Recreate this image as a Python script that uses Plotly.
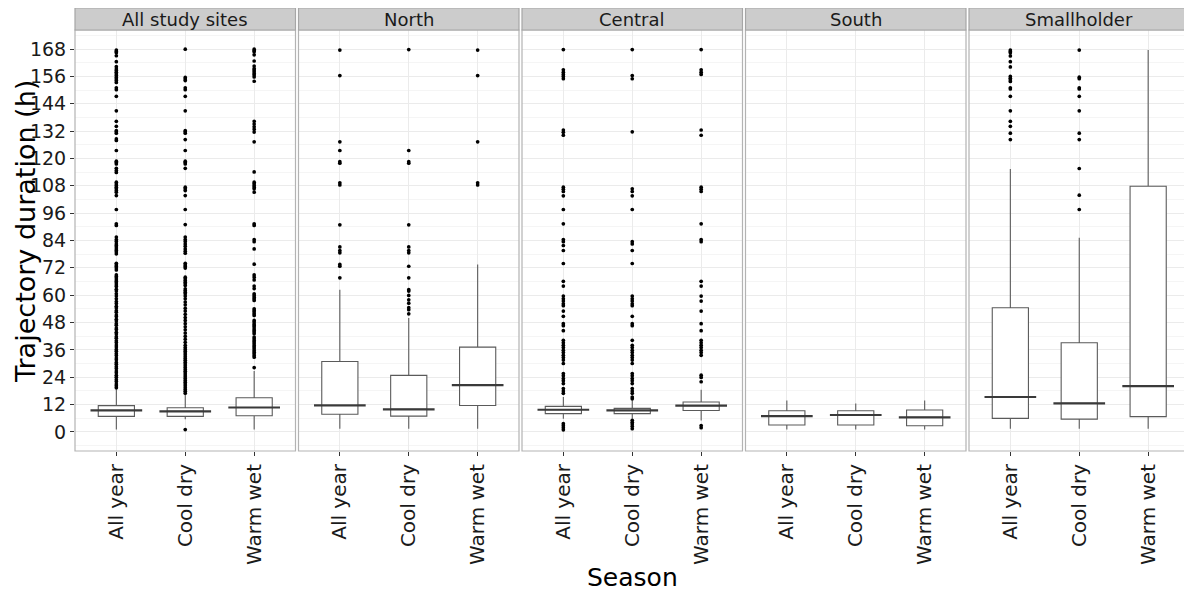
import plotly.graph_objects as go

facets = ["All study sites", "North", "Central", "South", "Smallholder"]
seasons = ["All year", "Cool dry", "Warm wet"]

# box statistics per facet (rows) and season (columns), hours
q1 = [[6.8, 6.8, 7.1], [7.7, 6.9, 11.6], [8.0, 8.0, 9.4], [3.0, 3.0, 2.7], [5.9, 5.6, 6.7]]
med = [[9.4, 9.0, 10.7], [11.6, 9.9, 20.5], [9.7, 9.4, 11.5], [6.9, 7.4, 6.4], [15.3, 12.5, 20.1]]
q3 = [[11.5, 10.6, 15.0], [30.9, 24.8, 37.2], [11.2, 10.3, 13.1], [9.3, 9.3, 9.6], [54.5, 39.1, 107.8]]
lo = [[1.0, 5.5, 1.0], [1.4, 1.4, 1.4], [5.8, 5.8, 5.0], [1.0, 1.0, 1.0], [1.4, 1.4, 1.4]]
hi = [[19.0, 16.4, 26.7], [62.4, 50.0, 73.5], [15.3, 13.8, 18.5], [13.8, 12.4, 13.8], [115.4, 85.2, 167.6]]

# outliers (hours) per facet, per season
out_all_sites = [
    [167.6, 167.0, 166.4, 165.1, 162.5, 160.3, 159.3, 158.6, 157.8, 157.1, 156.4, 155.6, 154.9, 154.2,
     153.4, 151.0, 150.2, 147.3, 140.9, 136.3, 134.1, 132.2, 131.7, 131.1, 128.6, 127.9, 123.5, 118.8,
     118.2, 117.6, 115.7, 114.7, 113.9, 109.6, 108.8, 108.1, 107.4, 106.7, 105.9, 105.2, 103.7, 97.6,
     91.3, 90.6, 85.5, 84.4, 83.6, 82.5, 81.8, 81.1, 80.3, 79.6, 78.9, 78.1, 74.0, 73.3, 72.6, 71.9,
     71.1, 68.9, 68.2, 67.5, 66.7, 66.0, 65.3, 64.5, 63.8, 62.6, 61.8, 60.6, 59.6, 58.4, 57.2, 56.3,
     55.1, 54.4, 53.2, 52.5, 51.3, 50.6, 49.4, 48.7, 47.5, 46.8, 45.6, 44.9, 43.7, 43.0, 41.8, 41.1,
     40.0, 39.2, 38.1, 37.3, 36.2, 35.4, 34.3, 33.5, 32.4, 31.6, 30.5, 29.7, 28.6, 27.8, 26.7, 25.9,
     24.8, 24.0, 22.9, 22.1, 21.0, 20.2, 19.4],
    [168.0, 155.6, 154.9, 154.2, 151.0, 150.2, 147.3, 140.9, 132.2, 131.7, 131.1, 128.3, 123.5, 118.8,
     118.2, 117.6, 115.7, 107.4, 106.7, 105.9, 103.7, 97.6, 91.0, 85.5, 84.4, 83.6, 82.5, 81.5, 80.3,
     79.3, 78.4, 74.0, 73.3, 72.6, 71.9, 67.9, 67.2, 66.4, 65.7, 65.0, 64.2, 62.8, 62.0, 61.3, 60.6,
     59.6, 58.4, 57.0, 55.8, 54.3, 53.0, 51.6, 50.2, 48.9, 47.5, 46.1, 44.8, 43.4, 42.0, 40.7, 39.3,
     38.0, 37.0, 36.2, 35.4, 34.6, 33.8, 33.0, 32.2, 31.4, 30.6, 29.8, 29.0, 28.2, 27.4, 26.6, 25.8,
     25.0, 24.2, 23.4, 22.6, 21.8, 21.0, 20.2, 19.4, 18.6, 17.8, 17.0, 1.0],
    [168.0, 167.4, 166.8, 165.5, 162.8, 160.6, 159.5, 158.8, 158.1, 157.3, 156.6, 155.8, 153.9, 136.3,
     135.1, 133.9, 132.8, 131.6, 127.3, 114.1, 109.6, 108.9, 108.1, 107.4, 106.7, 105.2, 91.3, 90.6,
     84.4, 83.5, 80.3, 73.6, 68.9, 67.9, 66.7, 64.0, 62.9, 60.6, 59.9, 59.1, 58.4, 57.7, 54.0, 53.3,
     52.6, 51.8, 51.1, 48.9, 48.2, 47.4, 46.7, 46.0, 45.2, 44.5, 43.8, 43.1, 41.6, 40.9, 40.1, 39.4,
     38.7, 37.9, 37.2, 36.5, 35.7, 35.0, 34.3, 33.5, 32.8, 28.2],
]
out_north = [
    [167.6, 156.4, 127.3, 123.5, 118.6, 117.9, 109.3, 108.4, 90.9, 81.2, 79.6, 78.6, 73.5, 72.7, 67.6],
    [167.8, 123.5, 118.6, 117.9, 90.9, 81.2, 79.6, 78.6, 72.7, 67.6, 62.4, 61.8, 59.9, 58.0, 56.5,
     54.5, 53.6, 51.8],
    [167.6, 156.4, 127.3, 109.3, 108.4],
]
out_central = [
    [167.8, 158.9, 157.9, 156.9, 156.0, 155.0, 132.5, 131.5, 130.2, 107.4, 106.5, 105.5, 103.6, 97.6,
     91.3, 84.4, 83.5, 81.8, 79.6, 73.9, 66.1, 64.0, 59.6, 58.4, 57.4, 56.2, 55.4, 53.0, 50.7, 47.5,
     46.6, 44.4, 40.2, 39.1, 38.0, 37.0, 35.8, 34.8, 33.6, 32.6, 31.5, 30.0, 25.6, 24.6, 23.4, 22.4,
     21.2, 19.0, 17.9, 16.9, 3.6, 2.7, 1.8, 0.9],
    [167.8, 156.4, 155.0, 131.7, 106.7, 105.5, 103.6, 97.6, 83.5, 82.5, 79.6, 73.9, 59.6, 58.4, 57.4,
     56.2, 55.4, 50.7, 47.5, 46.6, 40.2, 38.0, 37.0, 35.8, 34.8, 33.6, 32.6, 31.5, 30.0, 25.6, 24.6,
     23.4, 22.4, 21.2, 19.0, 17.9, 16.9, 15.3, 14.5, 5.1, 4.2, 3.4, 2.5, 1.4],
    [167.8, 158.9, 157.9, 156.9, 132.5, 130.2, 107.4, 106.5, 105.5, 91.3, 84.4, 83.5, 66.1, 64.0,
     59.6, 57.4, 53.0, 47.5, 44.4, 40.2, 39.1, 38.0, 37.0, 35.8, 34.8, 33.6, 24.9, 23.9, 22.0, 2.8, 1.8],
]
out_south = [[], [], []]
out_smallholder = [
    [167.6, 167.0, 166.4, 165.0, 162.5, 160.2, 156.0, 155.2, 154.5, 153.8, 151.0, 150.5, 147.3, 140.9,
     136.3, 134.1, 131.1, 128.3],
    [167.6, 155.7, 155.0, 151.0, 150.5, 147.3, 140.9, 131.1, 128.3, 115.6, 103.9, 97.6],
    [],
]
outliers = [out_all_sites, out_north, out_central, out_south, out_smallholder]

y_ticks = [0, 12, 24, 36, 48, 60, 72, 84, 96, 108, 120, 132, 144, 156, 168]

# page has an 8px body margin; size the figure so it fits the 1192x594 window
OFF = 8
W, H = 1192 - OFF, 594 - OFF
ml, mr, mt, mb = 75 - OFF, 2, 8 - OFF, 143
pw = W - ml - mr
ph = H - mt - mb
step = 223.5 / pw
width = 220.5 / pw
ytop = (ph - 22) / ph
FONT = "DejaVu Sans, Lato, sans-serif"


def px_x(x):
    return (x - OFF - ml) / pw


def px_y(y):
    return (ph - (y - OFF - mt)) / ph


fig = go.Figure()
shapes = []
annotations = []
layout = dict()

for i, facet in enumerate(facets):
    xa = "x" if i == 0 else f"x{i+1}"
    ya = "y" if i == 0 else f"y{i+1}"
    d0 = i * step
    d1 = min(d0 + width, 1.0)
    fig.add_trace(go.Box(
        x=seasons, q1=q1[i], median=med[i], q3=q3[i],
        lowerfence=lo[i], upperfence=hi[i], boxpoints=False,
        fillcolor="white", line=dict(color="#5a5a5a", width=1.1),
        whiskerwidth=0, xaxis=xa, yaxis=ya, showlegend=False, hoverinfo="skip"))
    for j, s in enumerate(seasons):
        vals = outliers[i][j]
        if vals:
            fig.add_trace(go.Scatter(
                x=[s] * len(vals), y=vals, mode="markers",
                marker=dict(color="black", size=3.7, line=dict(width=0)),
                xaxis=xa, yaxis=ya, showlegend=False, hoverinfo="skip"))
        shapes.append(dict(type="line", xref=xa, yref=ya, x0=j - 0.375, x1=j + 0.375,
                           y0=med[i][j], y1=med[i][j], line=dict(color="#3a3a3a", width=2.2)))
    xkey = "xaxis" if i == 0 else f"xaxis{i+1}"
    ykey = "yaxis" if i == 0 else f"yaxis{i+1}"
    layout[xkey] = dict(
        domain=[d0, d1], anchor=ya, type="category", categoryorder="array",
        categoryarray=seasons, range=[-0.6, 2.6], showgrid=True, gridcolor="#EBEBEB",
        gridwidth=1, ticks="outside", ticklen=4, tickcolor="#333333", tickangle=-90,
        tickfont=dict(size=20, color="#1a1a1a"), zeroline=False, showline=False,
        automargin=False)
    layout[ykey] = dict(
        domain=[0, ytop], anchor=xa, range=[-8.4, 176.4], tickmode="array",
        tickvals=y_ticks, ticktext=[str(t) for t in y_ticks],
        showgrid=True, gridcolor="#EBEBEB", gridwidth=1,
        minor=dict(tickmode="array", tickvals=[t + 6 for t in y_ticks[:-1]] + [-6, 174],
                   showgrid=True, gridcolor="#F5F5F5", gridwidth=1),
        zeroline=False, showline=False, automargin=False,
        showticklabels=(i == 0), ticks="outside" if i == 0 else "",
        ticklen=4, tickcolor="#333333", tickfont=dict(size=19, color="#1a1a1a"))
    if i > 0:
        layout[ykey]["matches"] = "y"
    shapes.append(dict(type="rect", xref="paper", yref="paper", x0=d0, x1=d1, y0=0, y1=ytop,
                       line=dict(color="#B3B3B3", width=1.2), fillcolor="rgba(0,0,0,0)", layer="above"))
    shapes.append(dict(type="rect", xref="paper", yref="paper", x0=d0, x1=d1, y0=ytop, y1=1,
                       line=dict(color="#A6A6A6", width=1.2), fillcolor="#CCCCCC", layer="above"))
    annotations.append(dict(text=facet, xref="paper", yref="paper", x=(d0 + d1) / 2,
                            y=(ytop + 1) / 2, showarrow=False, xanchor="center", yanchor="middle",
                            font=dict(size=18, color="#1a1a1a")))

annotations.append(dict(text="Trajectory duration (h)", xref="paper", yref="paper",
                        x=px_x(25), y=px_y(232), textangle=-90,
                        showarrow=False, xanchor="center", yanchor="middle",
                        font=dict(size=27, color="#000000")))
annotations.append(dict(text="Season", xref="paper", yref="paper",
                        x=px_x(632), y=px_y(577),
                        showarrow=False, xanchor="center", yanchor="middle",
                        font=dict(size=25, color="#000000")))

fig.update_layout(
    template="none",
    width=W, height=H, margin=dict(l=ml, r=mr, t=mt, b=mb, autoexpand=False),
    paper_bgcolor="white", plot_bgcolor="white",
    font=dict(family=FONT, color="#1a1a1a"),
    boxgap=0.25, showlegend=False, shapes=shapes, annotations=annotations, **layout)

fig.write_html("out.html")
